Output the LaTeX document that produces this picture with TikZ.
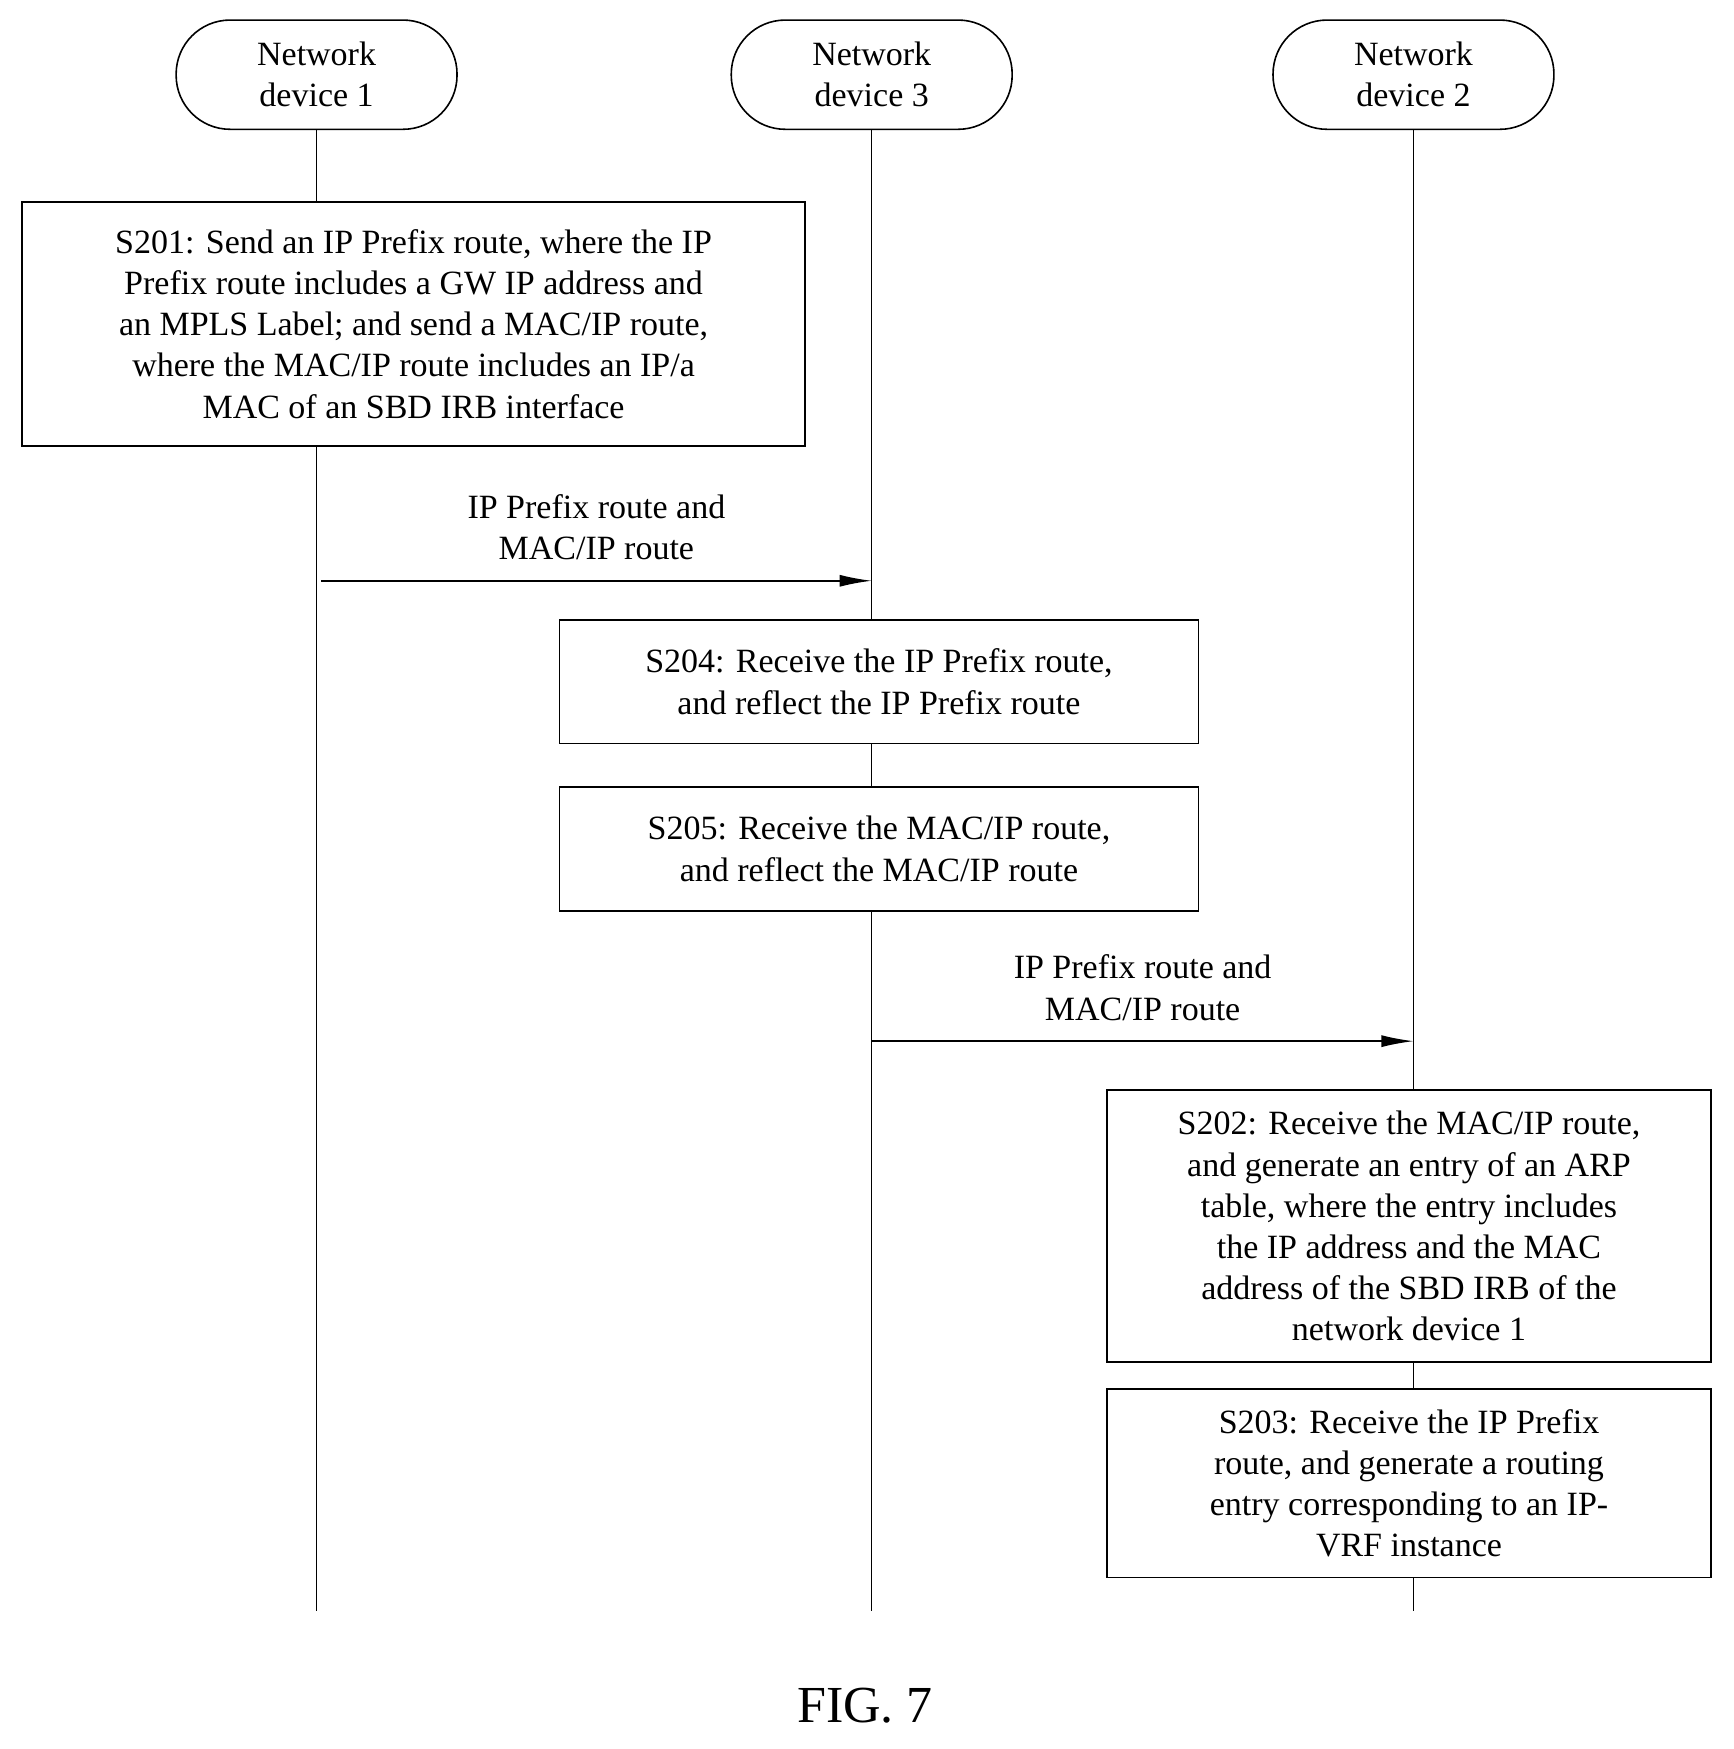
\documentclass[tikz,border=0pt]{standalone}
\usepackage{fontspec}
\setmainfont{Liberation Serif}
\usetikzlibrary{arrows.meta}
\begin{document}
\begin{tikzpicture}[x=0.5575pt,y=-0.5575pt,
  every node/.style={font=\fontsize{17}{20.6}\selectfont, align=center, inner sep=0pt},
  dev/.style={draw, line width=0.8pt, rounded corners=27pt, minimum width=252*0.5575pt, minimum height=98*0.5575pt, fill=white},
  stepbox/.style={draw, line width=0.8pt, fill=white},
  life/.style={line width=0.7pt},
  msg/.style={line width=0.8pt, -{Latex[length=16pt,width=6pt]}}]
\useasboundingbox (0,0) rectangle (1555,1569);
% lifelines
\coordinate (e1) at (284,1445); \coordinate (e3) at (782,1445); \coordinate (e2) at (1268,1445);
\draw[life] (284,67) -- (e1);
\draw[life] (782,67) -- (e3);
\draw[life] (1268,67) -- (e2);
\node[dev] (d1) at (284,67) {Network\\device 1};
\node[dev] (d3) at (782,67) {Network\\device 3};
\node[dev] (d2) at (1268,67) {Network\\device 2};
\node[stepbox, minimum width=702*0.5575pt, minimum height=219*0.5575pt] (s201) at (371,290.5) {S201: Send an IP Prefix route, where the IP\\Prefix route includes a GW IP address and\\an MPLS Label; and send a MAC/IP route,\\where the MAC/IP route includes an IP/a\\MAC of an SBD IRB interface};
\coordinate (a1s) at (288,521); \coordinate (a1e) at (782,521);
\draw[msg] (a1s) -- (a1e) node[midway, above=10pt] (l1) {IP Prefix route and\\MAC/IP route};
\node[stepbox, minimum width=573*0.5575pt, minimum height=111*0.5575pt] (s204) at (788.5,611.5) {S204: Receive the IP Prefix route,\\and reflect the IP Prefix route};
\node[stepbox, minimum width=573*0.5575pt, minimum height=111*0.5575pt] (s205) at (788.5,761.5) {S205: Receive the MAC/IP route,\\and reflect the MAC/IP route};
\coordinate (a2s) at (782,934); \coordinate (a2e) at (1268,934);
\draw[msg] (a2s) -- (a2e) node[midway, above=10pt] (l2) {IP Prefix route and\\MAC/IP route};
\node[stepbox, minimum width=542*0.5575pt, minimum height=244*0.5575pt] (s202) at (1264,1100) {S202: Receive the MAC/IP route,\\and generate an entry of an ARP\\table, where the entry includes\\the IP address and the MAC\\address of the SBD IRB of the\\network device 1};
\node[stepbox, minimum width=542*0.5575pt, minimum height=169*0.5575pt] (s203) at (1264,1330.5) {S203: Receive the IP Prefix\\route, and generate a routing\\entry corresponding to an IP-\\VRF instance};
\node[font=\fontsize{26}{30}\selectfont] (fig) at (776,1530) {FIG. 7};
\end{tikzpicture}
\end{document}
